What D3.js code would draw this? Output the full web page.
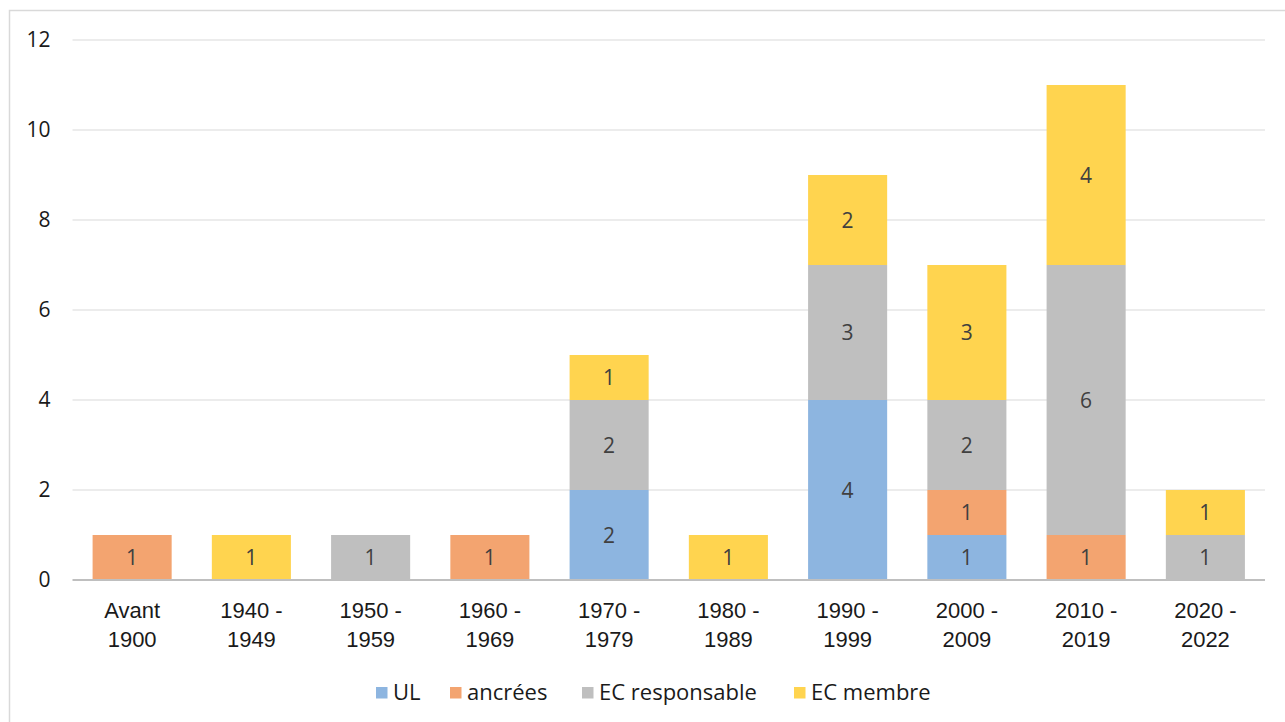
<!DOCTYPE html>
<html><head><meta charset="utf-8">
<script src="https://cdn.jsdelivr.net/npm/d3@7"></script>
<style>body{margin:0;background:#fff}svg{display:block;font-family:"Open Sans",sans-serif}</style>
</head><body><svg id="c" width="1285" height="722"></svg>
<script>
const categories = ["Avant\n1900","1940 -\n1949","1950 -\n1959","1960 -\n1969","1970 -\n1979","1980 -\n1989","1990 -\n1999","2000 -\n2009","2010 -\n2019","2020 -\n2022"];
const seriesNames = ["UL","ancrées","EC responsable","EC membre"];
const UL = [0,0,0,0,2,0,4,1,0,0];
const ancrees = [1,0,0,1,0,0,0,1,1,0];
const ECresponsable = [0,0,1,0,2,0,3,2,6,1];
const ECmembre = [0,1,0,0,1,1,2,3,4,1];
const yTicks = [0,2,4,6,8,10,12];
const colors = ["#8DB5E0","#F3A470","#BFBFBF","#FFD44F"];

const svg = d3.select("#c");
svg.append("rect").attr("x",9.5).attr("y",10.5).attr("width",1300).attr("height",720)
  .attr("fill","#fff").attr("stroke","#d9d9d9").attr("stroke-width",1.5);

const x0=72.5, x1=1265, yTop=40, yBot=580;
const x = d3.scaleBand().domain(categories).range([x0,x1]).paddingInner(0.337).paddingOuter(0.1685);
const y = d3.scaleLinear().domain([0,12]).range([yBot,yTop]);

svg.append("g").selectAll("line").data(yTicks.filter(t=>t>0)).join("line")
  .attr("x1",x0).attr("x2",x1).attr("y1",d=>y(d)).attr("y2",d=>y(d))
  .attr("stroke","#e6e6e6").attr("stroke-width",1.5);

const yAxis = svg.append("g").attr("transform",`translate(${x0},0)`)
  .call(d3.axisLeft(y).tickValues(yTicks).tickSize(0).tickPadding(22));
yAxis.select(".domain").remove();
yAxis.selectAll("text").attr("font-size",21).attr("fill","#1a1a1a").attr("font-family","Open Sans");

const table = categories.map((c,i)=>({cat:c,UL:UL[i],ancrees:ancrees[i],ECresponsable:ECresponsable[i],ECmembre:ECmembre[i]}));
const keys = ["UL","ancrees","ECresponsable","ECmembre"];
const stacked = d3.stack().keys(keys)(table);

const g = svg.append("g");
stacked.forEach((s,si)=>{
  const gg = g.append("g");
  gg.selectAll("rect").data(s.filter(d=>d[1]-d[0]>0)).join("rect")
    .attr("x",d=>x(d.data.cat)).attr("width",x.bandwidth())
    .attr("y",d=>y(d[1])).attr("height",d=>y(d[0])-y(d[1]))
    .attr("fill",colors[si]);
  gg.selectAll("text").data(s.filter(d=>d[1]-d[0]>0)).join("text")
    .attr("x",d=>x(d.data.cat)+x.bandwidth()/2).attr("y",d=>(y(d[0])+y(d[1]))/2)
    .attr("text-anchor","middle").attr("dy","0.36em").attr("font-size",21).attr("fill","#404040")
    .text(d=>d[1]-d[0]);
});

svg.append("line").attr("x1",x0).attr("x2",x1).attr("y1",yBot).attr("y2",yBot)
  .attr("stroke","#bfbfbf").attr("stroke-width",2);

const xAxis = svg.append("g").attr("transform",`translate(0,${yBot})`)
  .call(d3.axisBottom(x).tickSize(0).tickFormat(""));
xAxis.select(".domain").remove();
xAxis.selectAll(".tick").each(function(d){
  const t = d3.select(this).append("text").attr("text-anchor","middle").attr("font-size",22).attr("fill","#1a1a1a");
  d.split("\n").forEach((line,i)=>t.append("tspan").attr("x",0).attr("y",38+i*29).text(line));
});

const legendX = [376,450,582,794];
const lg = svg.append("g");
seriesNames.forEach((n,i)=>{
  lg.append("rect").attr("x",legendX[i]).attr("y",687).attr("width",11.5).attr("height",11.5).attr("fill",colors[i]);
  lg.append("text").attr("x",legendX[i]+17).attr("y",700).attr("font-size",22).attr("fill","#1a1a1a").text(n);
});
</script></body></html>
